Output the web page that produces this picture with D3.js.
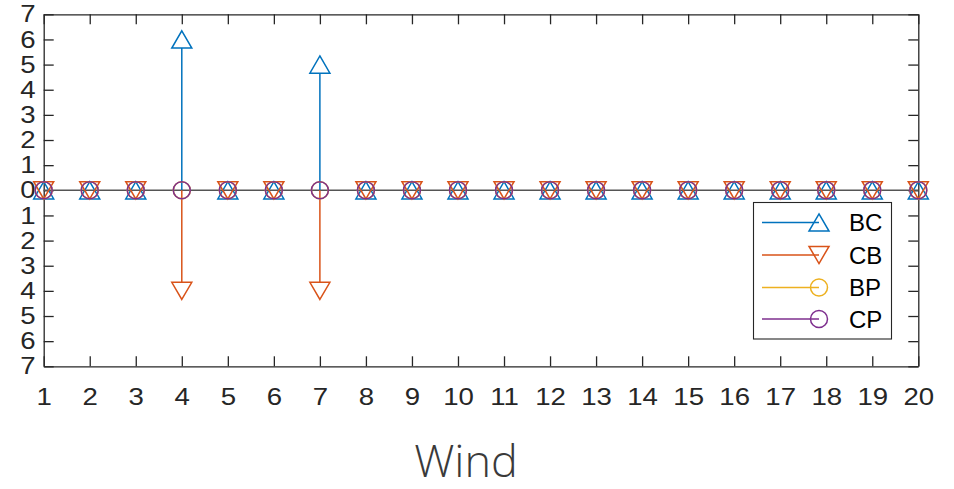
<!DOCTYPE html>
<html>
<head>
<meta charset="utf-8">
<script src="https://cdn.jsdelivr.net/npm/d3@7"></script>
<style>
  html, body { margin: 0; padding: 0; background: #fff; }
  svg { display: block; }
</style>
</head>
<body>
<svg id="chart" width="954" height="489"></svg>
<script>
// Wind stem plot: four series per position, values signed around a zero baseline
const positions = d3.range(1, 21);
const bcValues = [0,0,0,6,0,0,5,0,0,0,0,0,0,0,0,0,0,0,0,0];
const cbValues = [0,0,0,-4,0,0,-4,0,0,0,0,0,0,0,0,0,0,0,0,0];
const bpValues = [0,0,0,0,0,0,0,0,0,0,0,0,0,0,0,0,0,0,0,0];
const cpValues = [0,0,0,0,0,0,0,0,0,0,0,0,0,0,0,0,0,0,0,0];
const yTicks = d3.range(-7, 8);
const seriesNames = ["BC", "CB", "BP", "CP"];
const seriesColors = ["#0072BD", "#D95319", "#EDB120", "#7E2F8E"];
const seriesMarkers = ["up", "down", "circle", "circle"];
const xLabel = "Wind";

const series = seriesNames.map((name, i) => ({
  name,
  color: seriesColors[i],
  marker: seriesMarkers[i],
  values: [bcValues, cbValues, bpValues, cpValues][i]
}));

const svg = d3.select("#chart");
const m = { left: 43.7, right: 918.3, top: 14.3, bottom: 366.3 };
const axisColor = "#262626";
const numFont = "'Liberation Sans', Arial, Helvetica, sans-serif";
const labelStretch = 1.15;

const x = d3.scaleLinear().domain([1, 20]).range([m.left, m.right]);
const y = d3.scaleLinear().domain([-7, 7]).range([m.bottom, m.top]);

// Marker shapes
function markerPath(type) {
  const w = 10, h = 8.6;
  if (type === "up") return `M0,${-h} L${w},${h} L${-w},${h} Z`;
  if (type === "down") return `M0,${h} L${w},${-h} L${-w},${-h} Z`;
  return null;
}
function drawMarker(g, type, cx, cy, color) {
  if (type === "circle") {
    g.append("circle").attr("cx", cx).attr("cy", cy).attr("r", 8.5)
      .attr("fill", "none").attr("stroke", color).attr("stroke-width", 1.5);
  } else {
    g.append("path").attr("d", markerPath(type))
      .attr("transform", `translate(${cx},${cy})`)
      .attr("fill", "none").attr("stroke", color).attr("stroke-width", 1.5)
      .attr("stroke-linejoin", "miter");
  }
}

// Axes: bottom, left, plus mirrored top/right tick rows (ticks pointing inward)
const tickLen = 10;
const xAxisB = d3.axisBottom(x).tickValues(positions).tickSize(-tickLen).tickPadding(21.5).tickSizeOuter(0);
const xAxisT = d3.axisTop(x).tickValues(positions).tickSize(-tickLen).tickFormat("").tickSizeOuter(0);
const yAxisL = d3.axisLeft(y).tickValues(yTicks).tickSize(-tickLen).tickPadding(8)
  .tickFormat(d => String(Math.abs(d))).tickSizeOuter(0);
const yAxisR = d3.axisRight(y).tickValues(yTicks).tickSize(-tickLen).tickFormat("").tickSizeOuter(0);

function styleAxis(g) {
  g.selectAll("path.domain").attr("stroke", axisColor).attr("stroke-width", 1.3);
  g.selectAll(".tick line").attr("stroke", axisColor).attr("stroke-width", 1.3);
  g.selectAll(".tick text").attr("fill", axisColor)
    .style("font-family", numFont).style("font-size", "24px")
    .attr("transform", function () {
      // widen the digits horizontally around their anchor point
      const ax = +d3.select(this).attr("x") || 0;
      return `translate(${ax},0) scale(${labelStretch},1) translate(${-ax},0)`;
    });
}

svg.append("g").attr("transform", `translate(0,${m.bottom})`).call(xAxisB).call(styleAxis);
svg.append("g").attr("transform", `translate(0,${m.top})`).call(xAxisT).call(styleAxis);
svg.append("g").attr("transform", `translate(${m.left},0)`).call(yAxisL).call(styleAxis);
svg.append("g").attr("transform", `translate(${m.right},0)`).call(yAxisR).call(styleAxis);

// Baseline at zero
svg.append("line")
  .attr("x1", x(1)).attr("x2", x(20))
  .attr("y1", y(0)).attr("y2", y(0))
  .attr("stroke", "#555").attr("stroke-width", 1.5);

// Stems (end at the marker edge)
const stems = svg.append("g");
series.forEach(s => {
  s.values.forEach((v, i) => {
    if (v === 0) return;
    const px = x(positions[i]);
    const off = s.marker === "up" ? 8.6 : (s.marker === "down" ? -8.6 : 0);
    stems.append("line")
      .attr("x1", px).attr("x2", px)
      .attr("y1", y(0)).attr("y2", y(v) + off)
      .attr("stroke", s.color).attr("stroke-width", 1.5);
  });
});

// Markers
const marks = svg.append("g");
series.forEach(s => {
  s.values.forEach((v, i) => {
    drawMarker(marks, s.marker, x(positions[i]), y(v), s.color);
  });
});

// Legend
const lg = svg.append("g");
lg.append("rect")
  .attr("x", 753.5).attr("y", 202.5).attr("width", 138).attr("height", 136.5)
  .attr("fill", "#fff").attr("stroke", axisColor).attr("stroke-width", 1.1);
const legendRows = [222.5, 255, 287.5, 319];
series.forEach((s, i) => {
  const ly = legendRows[i];
  lg.append("line").attr("x1", 762).attr("x2", 819).attr("y1", ly).attr("y2", ly)
    .attr("stroke", s.color).attr("stroke-width", 1.5);
  drawMarker(lg, s.marker, 819, ly, s.color);
  lg.append("text").attr("x", 849).attr("y", ly).attr("dy", "0.36em")
    .attr("fill", "#000")
    .style("font-family", numFont).style("font-size", "24px")
    .text(s.name);
});

// X-axis title
svg.append("text")
  .attr("x", 466).attr("y", 477)
  .attr("text-anchor", "middle")
  .attr("fill", "#3a3a3a")
  .style("font-family", "'Open Sans', Lato, sans-serif")
  .style("font-weight", 300)
  .style("font-size", "45px")
  .text(xLabel);
</script>
</body>
</html>
